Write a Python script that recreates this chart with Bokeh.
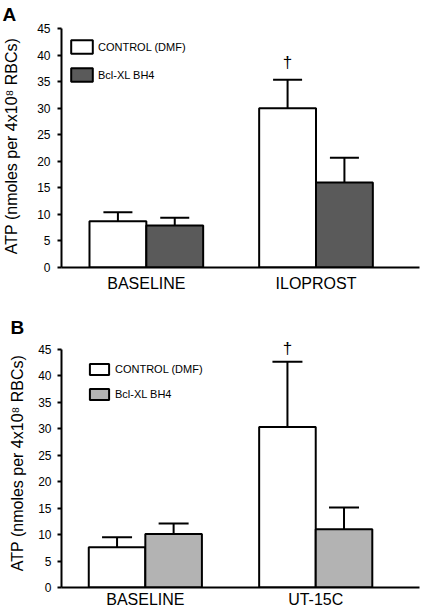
import numpy as np
from bokeh.plotting import figure
from bokeh.models import (ColumnDataSource, Range1d, FixedTicker, Whisker, TeeHead,
                          Legend, LegendItem)
from bokeh.core.properties import value
from bokeh.layouts import column
from bokeh.embed import file_html
from bokeh.resources import INLINE

# ---------------- data ----------------
series = ["CONTROL (DMF)", "Bcl-XL BH4"]
y_ticks = [0, 5, 10, 15, 20, 25, 30, 35, 40, 45]
y_label = "ATP (nmoles per 4x10\u2078 RBCs)"

groups_A = ["BASELINE", "ILOPROST"]
control_A = [8.7, 30.0]
control_err_A = [1.7, 5.4]
bcl_A = [7.9, 16.0]
bcl_err_A = [1.5, 4.7]
sig_A = ["", "\u2020"]

groups_B = ["BASELINE", "UT-15C"]
control_B = [7.6, 30.3]
control_err_B = [1.9, 12.3]
bcl_B = [10.1, 11.0]
bcl_err_B = [2.0, 4.1]
sig_B = ["", "\u2020"]

FONT = "Liberation Sans"


def make_panel(letter, groups, ctrl, ctrl_err, bcl, bcl_err, sig, bcl_color, cfg):
    p = figure(width=cfg["width"], height=cfg["height"], output_backend="svg",
               toolbar_location=None, tools="",
               x_range=Range1d(*cfg["xr"]), y_range=Range1d(0, cfg["yend"]),
               min_border_left=cfg["bl"], min_border_right=cfg["br"],
               min_border_top=cfg["bt"], min_border_bottom=cfg["bb"])
    p.outline_line_color = None
    p.xgrid.visible = False
    p.ygrid.visible = False
    p.background_fill_color = "white"

    # panel letter as title
    p.title.text = letter
    p.title.align = "left"
    p.title.offset = cfg["let_x"] - cfg["bl"]
    p.title.standoff = cfg["tstand"]
    p.title.text_font = FONT
    p.title.text_font_size = "19px"
    p.title.text_font_style = "bold"
    p.title.text_color = "black"

    idx = np.arange(len(groups), dtype=float)
    bw = cfg["bw"]
    xc = idx - bw / 2
    xb = idx + bw / 2

    src_c = ColumnDataSource(dict(x=xc, top=np.array(ctrl),
                                  upper=np.array(ctrl) + np.array(ctrl_err), sig=sig))
    src_b = ColumnDataSource(dict(x=xb, top=np.array(bcl),
                                  upper=np.array(bcl) + np.array(bcl_err)))

    for src in (src_c, src_b):
        w = Whisker(source=src, base="x", lower="top", upper="upper", dimension="height",
                    line_color="black", line_width=2, lower_head=None,
                    upper_head=TeeHead(size=cfg["cap"], line_color="black", line_width=2))
        p.add_layout(w)

    r1 = p.vbar(x="x", top="top", bottom=0, width=bw, source=src_c,
                fill_color="white", line_color="black", line_width=2)
    r2 = p.vbar(x="x", top="top", bottom=0, width=bw, source=src_b,
                fill_color=bcl_color, line_color="black", line_width=2)

    p.text(x="x", y="upper", text="sig", source=src_c, text_align="center",
           text_baseline="bottom", y_offset=cfg["dag_off"], text_font=value(FONT),
           text_font_size="17px", text_color="black")

    # axes
    ya = p.yaxis[0]
    ya.bounds = (0, 45)
    ya.ticker = FixedTicker(ticks=y_ticks)
    ya.axis_line_width = 2
    ya.axis_line_color = "black"
    ya.major_tick_line_width = 2
    ya.major_tick_out = 4
    ya.major_tick_in = 0
    ya.minor_tick_line_color = None
    ya.major_label_standoff = cfg["ystand"]
    ya.major_label_text_font = FONT
    ya.major_label_text_font_size = "12px"
    ya.major_label_text_color = "black"
    ya.axis_label = y_label
    ya.axis_label_standoff = cfg["lstand"]
    ya.axis_label_text_font = FONT
    ya.axis_label_text_font_size = "16px"
    ya.axis_label_text_font_style = "normal"
    ya.axis_label_text_color = "black"

    xa = p.xaxis[0]
    xa.ticker = FixedTicker(ticks=list(idx))
    xa.major_label_overrides = {float(i): g for i, g in zip(idx, groups)}
    xa.axis_line_width = 2
    xa.axis_line_color = "black"
    xa.major_tick_line_color = None
    xa.major_tick_out = 0
    xa.major_tick_in = 0
    xa.minor_tick_line_color = None
    xa.major_label_standoff = cfg["xstand"]
    xa.major_label_text_font = FONT
    xa.major_label_text_font_size = "16px"
    xa.major_label_text_color = "black"

    leg = Legend(items=[LegendItem(label=series[0], renderers=[r1]),
                        LegendItem(label=series[1], renderers=[r2])],
                 location=cfg["leg_loc"], padding=0, margin=0,
                 glyph_width=cfg["gw"], glyph_height=cfg["gh"],
                 label_height=cfg["gh"], label_standoff=cfg["ls"], spacing=cfg["sp"],
                 border_line_color=None, background_fill_alpha=0,
                 label_text_font=FONT, label_text_font_size="11px",
                 label_text_color="black")
    p.add_layout(leg)
    return p


cfg_A = dict(width=432, height=300, bl=59, br=13, bt=24, bb=33, yend=45.8,
             xr=(-0.5, 1.61), bw=0.335, cap=29, xstand=7, ystand=7, lstand=14,
             gw=27, gh=17, ls=3, sp=11, leg_loc=(7, 184), let_x=0, tstand=0, dag_off=-8)
cfg_B = dict(width=432, height=310, bl=53, br=2, bt=38, bb=23, yend=47,
             xr=(-0.492, 1.609), bw=0.332, cap=30, xstand=3, ystand=6, lstand=9,
             gw=24, gh=14, ls=4, sp=11, leg_loc=(26, 186), let_x=2, tstand=1, dag_off=-4)

pA = make_panel("A", groups_A, control_A, control_err_A, bcl_A, bcl_err_A, sig_A, "#5a5a5a", cfg_A)
pB = make_panel("B", groups_B, control_B, control_err_B, bcl_B, bcl_err_B, sig_B, "#b3b3b3", cfg_B)

layout = column(pA, pB, spacing=0)
open("out.html", "w").write(file_html(layout, INLINE))
